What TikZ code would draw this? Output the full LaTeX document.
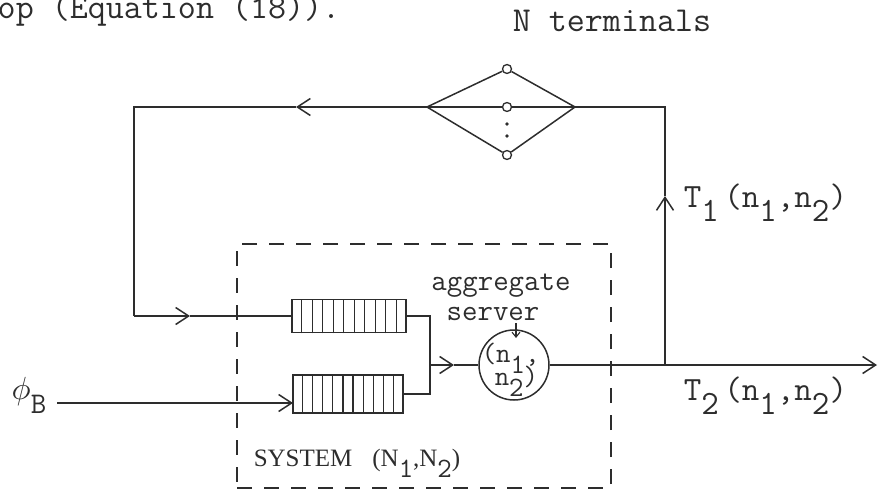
\documentclass[tikz,border=0pt]{standalone}
\usepackage{fontspec}
\usepackage{graphicx}
\setmainfont{Liberation Serif}
\usetikzlibrary{arrows.meta,calc}
\definecolor{ink}{RGB}{45,45,45}
\newcommand\lowr[1]{\raisebox{-0.42em}{#1}}
\begin{document}
\begin{tikzpicture}[x=1pt,y=-1pt,line width=1.5pt,draw=ink,text=ink,
  barb/.style={-{Straight Barb[length=13pt,width=17pt,line width=1.5pt]}},
  tt/.style={font=\ttfamily\fontsize{35}{38}\selectfont,inner sep=0pt},
  ttl/.style={font=\ttfamily\fontsize{34}{36}\selectfont,inner sep=0pt},
  ttm/.style={font=\ttfamily\fontsize{30}{32}\selectfont,inner sep=0pt},
  ttc/.style={font=\ttfamily\fontsize{28}{28}\selectfont,inner sep=0pt},
  term/.style={circle,draw,fill=white,inner sep=0pt,minimum size=9pt,line width=1.3pt},
  queue/.style={draw,rectangle,inner sep=0pt},
  sysbox/.style={draw,dash pattern=on 15pt off 12pt,line width=1.3pt,inner sep=0pt}]
\useasboundingbox (0,0) rectangle (878,492);

% caption fragment
\node[tt,anchor=base west] (title) at (-3,19) {op (Equation (18)).};

% terminals
\node[tt,anchor=base] (nterm) at (612,32) {N terminals};
\coordinate (dL) at (427,107);
\coordinate (dR) at (575,107);
\node[term] (tA) at (507,69) {};
\node[term] (tB) at (507,107) {};
\node[term] (tC) at (507,155) {};
\draw (dL) -- (tA) -- (dR);
\draw (dL) -- (tC) -- (dR);
\draw (dL) -- (tB) -- (dR);
\fill[ink] (507,124) circle (1.8pt);
\fill[ink] (507,136) circle (1.8pt);

% system box
\node[sysbox,minimum width=374pt,minimum height=244pt] (sys) at (424,366) {};
\node[anchor=base west,inner sep=0pt,font=\fontsize{25}{28}\selectfont] (systxt) at (253,466)
  {SYSTEM\hspace{20pt}(N{\ttfamily\fontsize{28}{28}\selectfont\lowr{1}},N{\ttfamily\fontsize{28}{28}\selectfont\lowr{2}})};

% queues
\node[queue,minimum width=114pt,minimum height=33pt] (q1) at (349,316) {};
\node[queue,minimum width=110pt,minimum height=38pt] (q2) at (348,394) {};
\foreach \i in {1,...,10}{
  \draw[line width=1.3pt] ($(q1.south west)!\i/11!(q1.south east)$) -- ($(q1.north west)!\i/11!(q1.north east)$);
  \draw[line width=1.3pt] ($(q2.south west)!\i/11!(q2.south east)$) -- ($(q2.north west)!\i/11!(q2.north east)$);
}

% server
\node[circle,draw,minimum size=70pt,inner sep=0pt] (srv) at (514,365) {};
\node[ttc,anchor=base west] (sl1) at (481,362) {(n\lowr{1},};
\node[ttc,anchor=base west] (sl2) at (494,385) {n\lowr{2})};
\node[ttm,anchor=base] (agg) at (501,290) {aggregate};
\node[ttm,anchor=base] (serv) at (493,320) {server};
\coordinate (sarrS) at (516,323);
\coordinate (sarrE) at (516,338);
\draw[line width=1.1pt,-{Straight Barb[length=5pt,width=8pt,line width=1.1pt]}] (sarrS) -- (sarrE);

% feedback loop
\coordinate (a1) at (296,107);
\coordinate (tl) at (134,107);
\coordinate (bl) at (134,316);
\coordinate (a2) at (190,316);
\draw[barb] (dL) -- (a1);
\draw (a1) -- (tl) -- (bl);
\draw[barb] (bl) -- (a2);
\draw (a2) -- (q1.west);

% external input
\node[anchor=base west,inner sep=0pt] (phi) at (11,401) {\raisebox{2pt}{\scalebox{3.2}{$\phi$}}{\ttfamily\fontsize{30}{32}\selectfont\lowr{B}}};
\coordinate (ps) at (57,403);
\coordinate (q2in) at (293,403);
\draw[barb] (ps) -- (q2in);

% merge into server
\coordinate (jx) at (430,365);
\coordinate (a4) at (454,365);
\draw (q1.east) -| (jx) |- (q2.east);
\draw[barb] (jx) -- (a4);
\draw (a4) -- (srv.west);

% outputs
\coordinate (out) at (877,365);
\draw[barb] (srv.east) -- (out);
\coordinate (tj) at (665,365);
\coordinate (a5) at (665,196);
\coordinate (tr) at (665,107);
\draw[barb] (tj) -- (a5);
\draw (a5) -- (tr) -- (dR);

\node[ttl,anchor=base west] (t1) at (683,207) {T\lowr{1}\,(n\lowr{1},n\lowr{2})};
\node[ttl,anchor=base west] (t2) at (683,400) {T\lowr{2}\,(n\lowr{1},n\lowr{2})};
\end{tikzpicture}
\end{document}
